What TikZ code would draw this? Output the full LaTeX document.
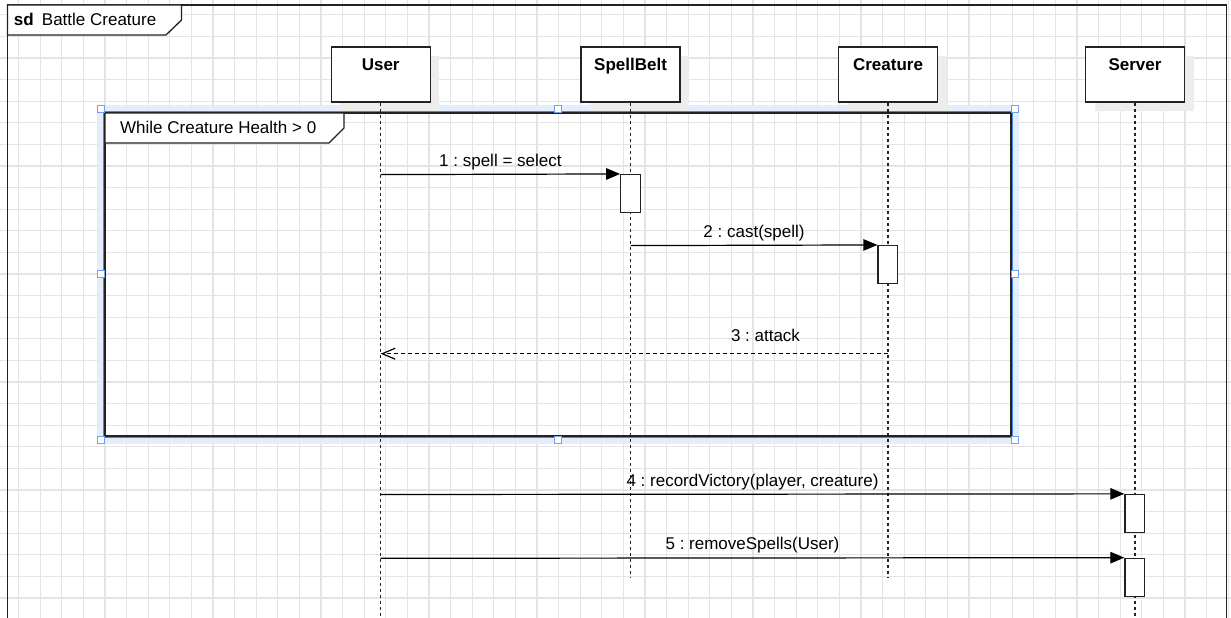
\documentclass[tikz,border=0pt]{standalone}
\usepackage{fontspec}
\setmainfont{Liberation Sans}
\usetikzlibrary{arrows.meta,shadows}
\frenchspacing

\definecolor{gridc}{HTML}{E4E4E4}
\definecolor{ink}{HTML}{222222}
\definecolor{selband}{HTML}{E2ECFB}
\definecolor{selblue}{HTML}{4A86E0}
\definecolor{handle}{HTML}{6FA2F0}

\tikzset{
  lifebox/.style={draw=ink, line width=1.4pt, fill=white, minimum width=99pt, minimum height=55pt, inner sep=0pt,
    drop shadow={shadow xshift=9pt, shadow yshift=-9pt, fill=black!7, opacity=1}},
  lifename/.style={font=\fontsize{17}{20}\selectfont\bfseries, anchor=base, inner sep=0pt},
  lifeline/.style={draw=ink, line width=1.4pt, dash pattern=on 3pt off 3pt},
  actbox/.style={draw=ink, line width=1.3pt, fill=white, minimum width=19.5pt, minimum height=38pt, inner sep=0pt},
  msg/.style={draw=black, line width=1.2pt, -{Triangle[length=14pt,width=11.5pt]}},
  reply/.style={draw=black, line width=1.2pt, dash pattern=on 4pt off 3pt, -{Straight Barb[length=13pt,width=11pt]}},
  msglabel/.style={anchor=base, yshift=8pt, inner sep=0pt},
  framebox/.style={draw=ink, line width=1.3pt, fill=white},
  grab/.style={draw=handle, line width=1pt, fill=white, minimum size=7pt, inner sep=0pt}
}

\begin{document}
\begin{tikzpicture}[x=1pt, y=-1pt, font=\fontsize{17}{20}\selectfont]
  \useasboundingbox (0,0) rectangle (1231,618);
  \fill[white] (0,0) rectangle (1231,618);

  % background grid
  \foreach \i in {0,...,56} \draw[gridc, line width=1.2pt] ({18.6+\i*21.6},0) -- ({18.6+\i*21.6},618);
  \foreach \j in {0,...,27} \draw[gridc, line width=1.2pt] (0,{14.8+\j*21.6}) -- (1231,{14.8+\j*21.6});

  % outer sd frame (open at the bottom edge)
  \draw[ink, line width=1.3pt] (7.5,625) -- (7.5,5) -- (1226.5,5) -- (1226.5,625);
  \draw[framebox] (7.5,5) -- (181.5,5) -- (181.5,20) -- (166,35) -- (7.5,35) -- cycle;
  \node[anchor=base west, inner sep=0pt] (sdtitle) at (13.7,25.5) {\textbf{sd}\hspace{8.2pt}Battle Creature};

  % loop fragment with selection highlight
  \draw[selband, line width=7.5pt, draw opacity=0.9] (100.8,108.5) rectangle (1015,440);
  \draw[ink, line width=1.3pt] (105,113) rectangle (1011,436);
  \draw[selblue, line width=1pt] (103.8,111.8) rectangle (1012.2,437.2);
  \draw[framebox] (105,113) -- (344,113) -- (344,128) -- (329,143) -- (105,143) -- cycle;
  \node[anchor=base west, inner sep=0pt] (looptitle) at (120,133) {While Creature Health > 0};

  % lifeline heads
  \node[lifebox] (user)     at (380.7,74.5) {};
  \node[lifebox] (spell)    at (630.6,74.5) {};
  \node[lifebox] (creature) at (888,74.5) {};
  \node[lifebox] (server)   at (1135,74.5) {};
  \node[lifename] (userL)     at ([yshift=-24pt]user.north) {User};
  \node[lifename] (spellL)    at ([yshift=-24pt]spell.north) {SpellBelt};
  \node[lifename] (creatureL) at ([yshift=-24pt]creature.north) {Creature};
  \node[lifename] (serverL)   at ([yshift=-24pt]server.north) {Server};

  % lifeline ends
  \coordinate (userEnd)     at (380.7,620);
  \coordinate (spellEnd)    at (630.6,577);
  \coordinate (creatureEnd) at (888,577);
  \coordinate (serverEnd)   at (1135,620);
  \draw[lifeline] (user.south) -- (userEnd);
  \draw[lifeline] (spell.south) -- (spellEnd);
  \draw[lifeline] (creature.south) -- (creatureEnd);
  \draw[lifeline] (server.south) -- (serverEnd);

  % selection handles
  \foreach \hx/\hy [count=\k] in {100.8/108.5, 557.9/108.5, 1015/108.5, 100.8/274.2, 1015/274.2, 100.8/440, 557.9/440, 1015/440}
    \node[grab] (grab\k) at (\hx,\hy) {};

  % activation bars
  \node[actbox] (act1) at (630.5,193.6) {};
  \node[actbox] (act2) at (887.8,264.6) {};
  \node[actbox] (act3) at (1134.7,513.5) {};
  \node[actbox] (act4) at (1134.7,577.3) {};

  % message anchors on lifelines
  \coordinate (m1s) at (380.7,174.6);
  \coordinate (m2s) at (630.6,245.6);
  \coordinate (m3s) at (888,353.7);
  \coordinate (m3e) at (380.7,353.7);
  \coordinate (m4s) at (380.7,494.5);
  \coordinate (m5s) at (380.7,558.3);

  % messages
  \draw[msg] (m1s) -- node[msglabel] (l1) {1 : spell = select} (act1.north west);
  \draw[msg] (m2s) -- node[msglabel] (l2) {2 : cast(spell)} (act2.north west);
  \draw[reply] (m3s) -- (m3e);
  \node[anchor=base, inner sep=0pt] (l3) at (765.5,341.5) {3 : attack};
  \draw[msg] (m4s) -- node[msglabel] (l4) {4 : recordVictory(player, creature)} (act3.north west);
  \draw[msg] (m5s) -- node[msglabel] (l5) {5 : removeSpells(User)} (act4.north west);
\end{tikzpicture}
\end{document}
